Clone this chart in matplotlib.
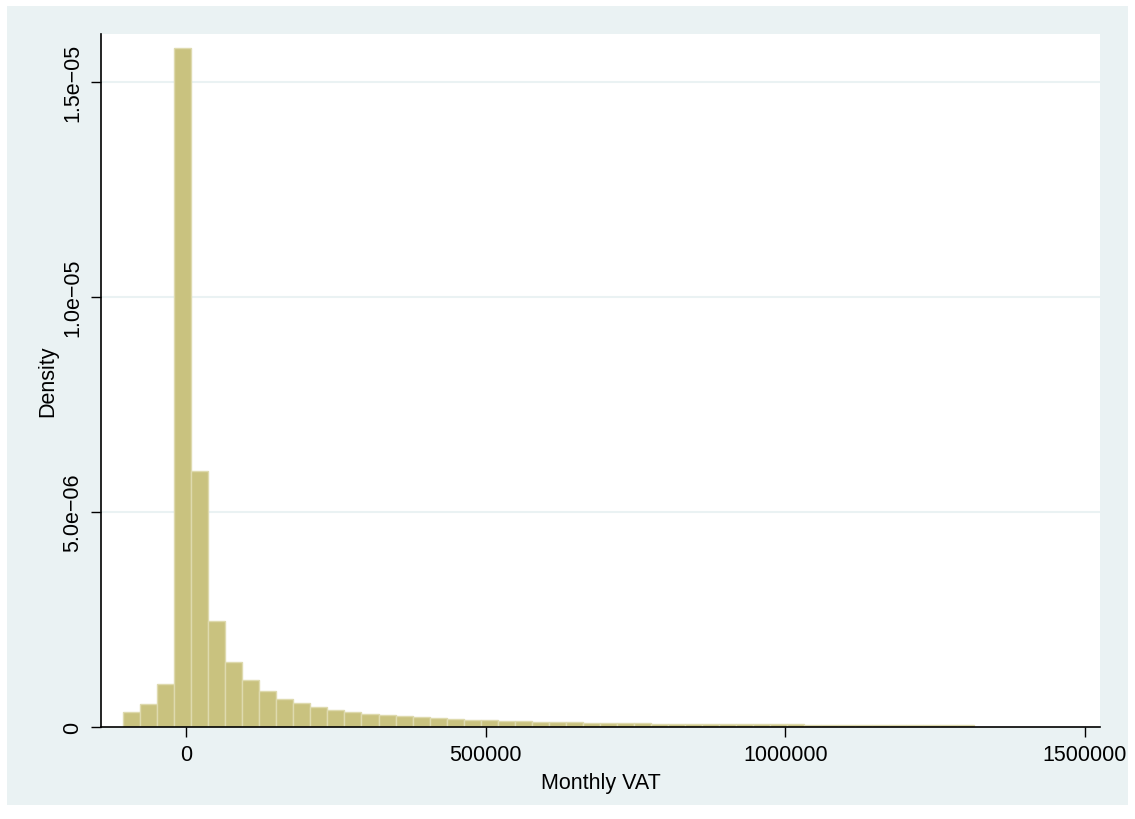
import numpy as np
import matplotlib
matplotlib.use("Agg")
from matplotlib import pyplot as plt
from matplotlib.patches import Rectangle

# histogram of monthly VAT, 50 bins (density scale)
bin_start = -104600
bin_width = 28390
density = [0.34, 0.53, 1.00, 15.78, 5.96, 2.47, 1.51, 1.10, 0.83, 0.65,
           0.56, 0.46, 0.39, 0.34, 0.30, 0.27, 0.25, 0.225, 0.20, 0.185,
           0.17, 0.155, 0.145, 0.13, 0.123, 0.116, 0.105, 0.10, 0.093, 0.088,
           0.084, 0.080, 0.077, 0.074, 0.071, 0.068, 0.066, 0.064, 0.062, 0.060,
           0.058, 0.056, 0.054, 0.052, 0.050, 0.049, 0.047, 0.046, 0.044, 0.043]
density = np.array(density) * 1e-6

xticks = [0, 500000, 1000000, 1500000]
xticklabels = ["0", "500000", "1000000", "1500000"]
yticks = [0, 5e-6, 1e-5, 1.5e-5]
yticklabels = ["0", "5.0e\u221206", "1.0e\u221205", "1.5e\u221205"]

plt.rcParams['font.family'] = ['Liberation Sans', 'DejaVu Sans']

W, H = 1135, 820
fig = plt.figure(figsize=(W/100, H/100), dpi=100)
fig.patch.set_facecolor("white")
# stata-like outer light panel
fig.patches.append(Rectangle((7/W, 14/H), (1128-7)/W, (806-7)/H,
                             transform=fig.transFigure, facecolor="#EAF2F3",
                             edgecolor="none", zorder=-10))

ax = fig.add_axes([101/W, (H-728)/H, 999/W, 693/H])
ax.set_zorder(5)
ax.set_facecolor("white")

edges = bin_start + bin_width*np.arange(len(density))
ax.bar(edges, density, width=bin_width, align="edge",
       color="#C9C27F", edgecolor="#DEDAAE", linewidth=1.0, zorder=2)

ax.set_xlim(-141800, 1525100)
ax.set_ylim(0, 1.611e-5)

ax.set_xticks(xticks)
ax.set_xticklabels(xticklabels)
ax.set_yticks(yticks)
ax.set_yticklabels(yticklabels, rotation=90, va="center")

for y in yticks[1:]:
    ax.axhline(y, color="#EAF2F3", linewidth=1.5, zorder=1)

for s in ["top", "right"]:
    ax.spines[s].set_visible(False)
for s in ["left", "bottom"]:
    ax.spines[s].set_linewidth(1.2)
    ax.spines[s].set_color("black")

ax.tick_params(axis="both", direction="out", length=7, width=1.0,
               labelsize=15.5, colors="black")
ax.tick_params(axis="y", pad=6)
ax.tick_params(axis="x", pad=5)

ax.set_xlabel("Monthly VAT", fontsize=15.5, labelpad=5)
ax.set_ylabel("Density", fontsize=15.5, labelpad=3)

fig.savefig("out.png", dpi=100, facecolor="white")
